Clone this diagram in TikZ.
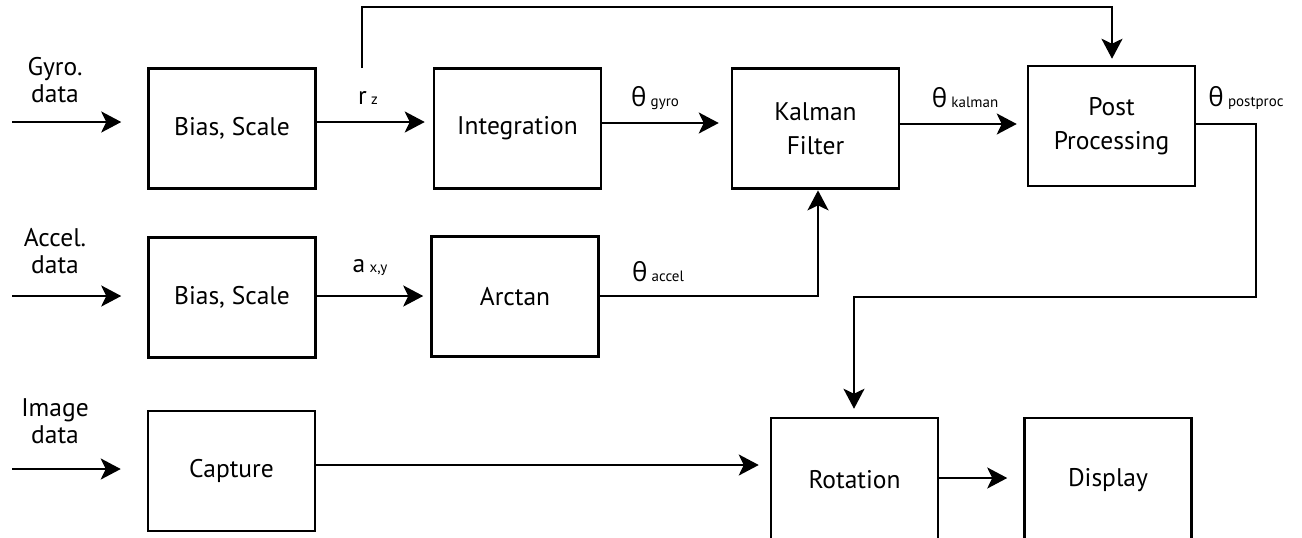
\documentclass[tikz,border=0pt]{standalone}
\usepackage{fontspec}
\setmainfont{PT Sans}
\newfontfamily\grk{Open Sans}
\usetikzlibrary{arrows.meta}
\newcommand\subtxt[1]{{\fontsize{7.5}{9}\selectfont #1}}
\newcommand\thsym{{\grk\fontsize{13}{15}\selectfont θ}}
\begin{document}
\begin{tikzpicture}[x=0.5pt,y=-0.5pt,
  every node/.style={font=\fontsize{12.75}{17}\selectfont},
  blk/.style={draw, line width=1.25pt, inner sep=0pt, align=center, minimum width=83.5pt, minimum height=60pt},
  sidelbl/.style={align=center, font=\fontsize{12.75}{13.5}\selectfont},
  lbl/.style={inner sep=0pt},
  conn/.style={line width=1.25pt},
  arr/.style={conn, -{Stealth[length=10pt,width=10.5pt,inset=2.5pt]}, shorten >=5pt}]
\useasboundingbox (0,0) rectangle (1302,537);
\clip (0,0) rectangle (1302,537);
% blocks
\node[blk] (bs1) at (232,128.5) {Bias, Scale};
\node[blk] (integ) at (517.5,128.5) {Integration};
\node[blk] (kalman) at (815.5,128.5) {Kalman\\Filter};
\node[blk] (post) at (1111.5,126) {Post\\Processing};
\node[blk] (bs2) at (232,297.5) {Bias, Scale};
\node[blk] (arctan) at (515,296.5) {Arctan};
\node[blk] (capture) at (231.5,471) {Capture};
\node[blk, minimum height=62pt] (rotation) at (854.5,480) {Rotation};
\node[blk, minimum height=62pt] (display) at (1108,480) {Display};
% side labels
\node[sidelbl] (gyrol) at (55,80) {Gyro.\\data};
\node[sidelbl] (accl) at (55,251) {Accel.\\data};
\node[sidelbl] (imgl) at (55,421) {Image\\data};
% signal labels
\node[lbl] (rz) at (368,98) {r\,\subtxt{z}};
\node[lbl] (thg) at (655,98) {\thsym\,\subtxt{gyro}};
\node[lbl] (thk) at (965,98) {\thsym\,\subtxt{kalman}};
\node[lbl] (thp) at (1246,98) {\thsym\,\subtxt{postproc}};
\node[lbl] (axy) at (370,268) {a\,\subtxt{x,y}};
\node[lbl] (tha) at (658,272) {\thsym\,\subtxt{accel}};
% free ends
\coordinate (in1) at (12,122);
\coordinate (in2) at (12,296);
\coordinate (in3) at (12,469);
\coordinate (tap) at (362,68);
% inputs
\draw[arr, shorten >=13pt] (in1) -- (in1 -| bs1.west);
\draw[arr, shorten >=13pt] (in2) -- (in2 -| bs2.west);
\draw[arr, shorten >=13pt] (in3) -- (in3 -| capture.west);
% row 1
\draw[arr, shorten >=4pt] (bs1.east |- 0,122) -- (integ.west |- 0,122);
\draw[arr, shorten >=6pt] (integ.east |- 0,123) -- (kalman.west |- 0,123);
\draw[arr] (kalman.east |- 0,124) -- (post.west |- 0,124);
% top loop
\draw[arr, shorten >=3pt] (tap) -- (362,7) -- (1112,7) -- (post.north -| 1112,0);
% post -> rotation
\draw[arr, shorten >=4pt] (post.east |- 0,124) -- (1256,124) -- (1256,297) -- (854,297) -- (rotation.north -| 854,0);
% row 2
\draw[arr, shorten >=3.5pt] (bs2.east |- 0,296) -- (arctan.west |- 0,296);
\draw[arr, shorten >=0.3pt] (arctan.east |- 0,296) -- (818,296) -- (kalman.south -| 818,0);
% row 3
\draw[arr, shorten >=5.5pt] (capture.east |- 0,465) -- (rotation.west |- 0,465);
\draw[arr, shorten >=8pt] (rotation.east |- 0,478) -- (display.west |- 0,478);
\end{tikzpicture}
\end{document}
